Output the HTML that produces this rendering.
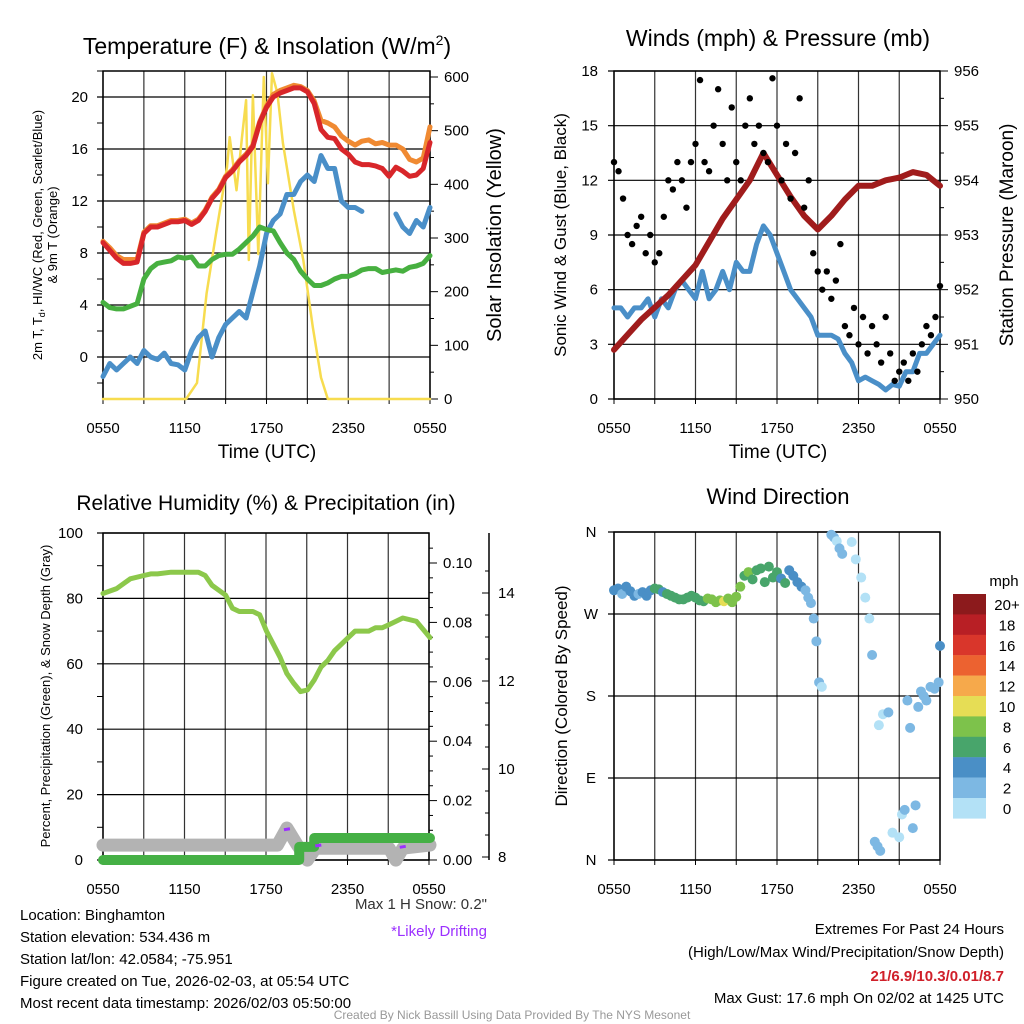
<!DOCTYPE html>
<html><head><meta charset="utf-8"><style>
html,body{margin:0;padding:0;background:#fff;}
svg{display:block;font-family:"Liberation Sans",Arial,sans-serif;}
</style></head><body>
<svg id="s" width="1024" height="1024" viewBox="0 0 1024 1024" xmlns="http://www.w3.org/2000/svg"></svg>
<script>
// ---------- DATA ----------
const hh = [0,0.5,1,1.5,2,2.5,3,3.5,4,4.5,5,5.5,6,6.5,7,7.5,8,8.5,9,9.5,10,10.5,11,11.5,12,12.5,13,13.5,14,14.5,15,15.5,16,16.5,17,17.5,18,18.5,19,19.5,20,20.5,21,21.5,22,22.5,23,23.5,24];
const tempRed = [8.8,8.2,7.6,7.2,7.2,7.3,9.5,10.0,10.0,10.2,10.4,10.4,10.5,10.2,10.5,11.2,12.2,12.8,13.8,14.3,15.0,15.5,16.2,18.0,19.2,20.0,20.3,20.5,20.7,20.7,20.4,19.5,17.5,16.9,16.8,16.0,15.6,15.0,14.8,14.8,14.7,14.5,13.9,14.6,14.3,13.9,14.0,14.5,16.5];
const temp9m = [8.9,8.4,7.8,7.5,7.5,7.5,9.6,10.1,10.1,10.3,10.5,10.5,10.6,10.3,10.6,11.3,12.3,12.9,13.9,14.4,15.1,15.6,16.3,18.1,19.3,20.2,20.5,20.7,20.9,20.8,20.5,19.7,18.2,18.0,17.7,17.0,16.6,16.3,16.6,16.7,16.4,16.5,16.3,16.3,16.0,15.2,15.0,15.3,17.7];
const tempGreen = [4.2,3.8,3.7,3.7,3.9,4.1,6.0,6.8,7.2,7.3,7.4,7.7,7.6,7.7,7.0,7.0,7.5,7.8,7.9,7.9,8.3,8.8,9.3,10.0,9.8,9.7,8.8,8.0,7.5,6.6,6.0,5.5,5.5,5.7,6.0,6.2,6.2,6.4,6.7,6.8,6.8,6.5,6.6,6.7,6.6,6.9,7.0,7.2,7.8];
const dewBlue = [-1.5,-0.5,-1,-0.5,0,-0.5,0.5,0,-0.2,0.3,-0.5,-0.6,-1,0.5,1.5,2,0,1.5,2.5,3,3.5,3,5,7,9.5,10.5,11,12.5,12.5,13.5,14,13.5,15.5,14.5,14.5,12,11.5,11.5,11.2,null,null,null,null,11,10,9.5,10.5,10,11.5];
const solarT = [0,6.1,6.9,7.6,8.3,9.1,9.3,9.8,10.2,10.5,10.7,11.0,11.4,11.8,12.1,12.4,12.8,13.2,14.0,14.7,15.4,16.0,16.5,24];
const solarV = [0,0,30,197,309,432,488,389,488,557,259,566,270,600,402,607,570,477,352,259,134,40,0,0];
const windBlue = [5,5,4.5,5,5,5.5,4.5,5.5,5,6,6.5,6,5.5,7,5.5,6,7,6,7.5,7,7,8.5,9.5,9,8,7,6,5.5,5,4.5,3.5,3.5,3.5,3.3,2.5,2,1,1.2,1,0.8,0.5,0.8,0.7,1.5,1.5,2.5,2.5,3,3.5];
const presH = [0,2,4,6,8,10,11,12,13,14,15,16,17,18,19,20,21,22,23,24];
const presV = [950.9,951.45,951.9,952.45,953.3,954.0,954.5,954.1,953.7,953.35,953.1,953.35,953.65,953.9,953.9,954.0,954.05,954.15,954.1,953.9];
const gustV = [13,12.5,11,9,8.5,9.5,10,8,9,7.5,8,10,12,11.5,13,12,10.5,13,14,17.5,13,12.5,15,17,14,12,16,13,12,15,16.5,14,15,13.5,13,17.6,15,12,14,11,13.5,16.5,10.5,12,8,7,6,7,5.5,6.5,8.5,4,3.5,5,3,4.5,2.5,4,3,2,4.5,2.5,1,1.5,2,1,2.5,1.5,3,4,3.5,4.5,6.2];
const rhH = [0,1,2,3,3.5,4,5,6,7,7.5,8,9,9.5,10,11,11.5,12,12.5,13,13.5,14,14.5,15,15.5,16,16.5,17,17.5,18,18.5,19,19.5,20,20.5,21,22,23,24];
const rhV = [81.5,83,86,87,87.5,87.5,88,88,88,87,84,81,77,76,76,75,70,66,62,57,54,51.5,52,55,59,61,64,66,68,70,70,70,71,71,72,74,73,68];
const snowH = [0,12.8,13.5,14.2,15.0,15.6,21.0,21.5,22.0,24];
const snowV = [8.27,8.27,8.66,8.3,7.93,8.2,8.2,7.93,8.2,8.27];
const precH = [0,14.4,14.4,15.5,15.5,24];
const precV = [0,0,0.0044,0.0044,0.0074,0.0074];
const dirT = [0,0.3,0.6,0.9,1.2,1.5,1.8,2.1,2.4,2.7,3.0,3.3,3.6,3.9,4.2,4.5,4.8,5.1,5.4,5.7,6.0,6.3,6.6,6.9,7.2,7.5,7.8,8.1,8.4,8.7,9.0,9.3,9.6,9.9,10.2,10.5,10.8,11.1,11.4,11.7,12.0,12.3,12.6,12.9,13.2,13.5,13.8,14.1,14.3,14.5,14.7,14.9,15.1,15.3,16.0,16.2,16.4,16.6,16.8,17.5,17.8,18.2,18.5,18.8,19.0,19.2,19.4,19.6,19.5,19.8,20.2,20.5,21.0,21.2,21.4,21.6,21.8,22.0,22.2,22.4,22.6,22.8,23.0,23.3,23.6,23.9,24];
const dirV = [296,298,292,300,295,290,292,294,290,296,298,297,294,292,290,288,286,286,288,290,288,285,284,287,286,283,285,284,287,283,289,300,312,316,308,318,320,305,322,310,316,309,304,318,312,305,300,296,288,282,265,240,195,190,357,354,350,342,336,349,330,310,288,265,225,20,15,10,148,160,162,30,25,50,55,175,145,35,60,168,185,180,175,190,188,195,235];
const dirS = [4,4,3,4,4,4,3,4,4,5,6,6,5,6,6,6,6,7,6,7,7,6,7,8,8,9,8,10,9,8,9,8,7,8,7,6,7,6,7,7,6,5,6,5,5,4,4,3,3,3,2,2,2,1,2,2,1,2,2,1,1,1,0,1,2,2,2,2,1,1,2,1,1,1,2,3,2,2,2,3,2,3,3,3,2,3,4];
const legendLabels = ["20+","18","16","14","12","10","8","6","4","2","0"];
const legendColors = ["#8c1a1c","#b81f25","#d9362b","#ec6230","#f6a94b","#e6dd55","#7dc24b","#48a56b","#4a8fc6","#7db8e3","#b3e1f6"];

// ---------- HELPERS ----------
const NS="http://www.w3.org/2000/svg";
const svg=document.getElementById('s');
function mk(tag,attrs,parent){const e=document.createElementNS(NS,tag);for(const k in attrs)e.setAttribute(k,attrs[k]);(parent||svg).appendChild(e);return e;}
function txt(x,y,s,size,anchor,extra){const e=mk('text',Object.assign({x:x,y:y,'font-size':size,'text-anchor':anchor||'middle',fill:'#000'},extra||{}));e.textContent=s;return e;}
function pathFrom(xs,ys,fx,fy){let d='',pen=false;for(let i=0;i<xs.length;i++){if(ys[i]===null||ys[i]===undefined){pen=false;continue;}d+=(pen?'L':'M')+fx(xs[i]).toFixed(1)+' '+fy(ys[i]).toFixed(1);pen=true;}return d;}

const X1=t=>103+t*327/24, X2=t=>614+t*326/24;
const YT=v=>357-v*13, YS=v=>399-v*322/600;
const YW=v=>399-v*328/18, YP=v=>399-(v-950)*328/6;
const YR=v=>860-v*3.27, YPr=v=>860-v*2970, YSn=v=>857-(v-8)*44;
const YD=v=>860-v*328/360;
const xt=["0550","1150","1750","2350","0550"];

function frame(x0,y0,x1,y1,name){
  for(let i=0;i<=8;i++){const x=x0+(x1-x0)*i/8;
    const g=mk('line',{x1:x,y1:y0,x2:x,y2:y1,stroke:'#333','stroke-width':1.2});
    
    
    if(i%2===0){const l=txt(x,y1+34,xt[i/2],15);
      
      }
    const tk=mk('line',{x1:x,y1:y1,x2:x,y2:y1+5,stroke:'#000','stroke-width':1});
    
    
  }
  const r=mk('rect',{x:x0,y:y0,width:x1-x0,height:y1-y0,fill:'none',stroke:'#000','stroke-width':1.5});
  
  
}
function hgrid(x0,x1,vals,fy,name,labels,lx,anchor){
  vals.forEach((v,i)=>{const y=fy(v);
    const g=mk('line',{x1:x0-6,y1:y,x2:x1,y2:y,stroke:'#000','stroke-width':1.2});
    
    
    const l=txt(lx,y+5,labels[i],15,anchor);
    
    });
}
function rAxis(x,vals,fy,labels,name,minor){
  vals.forEach((v,i)=>{const y=fy(v);
    const t=mk('line',{x1:x,y1:y,x2:x+8,y2:y,stroke:'#000','stroke-width':1});
    
    
    const l=txt(x+14,y+5,labels[i],15,'start');
    
    });
  minor.forEach(v=>{const y=fy(v);
    const t=mk('line',{x1:x,y1:y,x2:x+4,y2:y,stroke:'#000','stroke-width':1});
    
    });
}
function series(d,color,w,name,cap){const p=mk('path',{d:d,fill:'none',stroke:color,'stroke-width':w,'stroke-linejoin':'round','stroke-linecap':cap||'round'});
  
  return p;}

// ---------- PANEL 1 ----------
let e;
e=txt(267,54,"",23);e.innerHTML='Temperature (F) &amp; Insolation (W/m<tspan dy="-9" font-size="14">2</tspan><tspan dy="9">)</tspan>';


frame(103,71,430,399,'temp');
hgrid(103,430,[0,4,8,12,16,20],YT,'temp',["0","4","8","12","16","20"],88,'end');
for(let v=-2;v<=22;v+=2){if(v%4){const y=YT(v);e=mk('line',{x1:97,y1:y,x2:103,y2:y,stroke:'#000'});}}
rAxis(430,[0,100,200,300,400,500,600],YS,["0","100","200","300","400","500","600"],'solar-axis',[50,150,250,350,450,550]);
series(pathFrom(solarT,solarV,X1,YS),'#f7dc4f',2.5,'solar-insolation-line');
series(pathFrom(hh,dewBlue,X1,YT),'#4a8fc8',5,'dewpoint-line');
series(pathFrom(hh,tempGreen,X1,YT),'#47b040',5,'wind-chill-line');
series(pathFrom(hh,temp9m,X1,YT),'#f08a32',5,'temp-9m-line');
series(pathFrom(hh,tempRed,X1,YT),'#d8262a',5,'temp-2m-line');
e=txt(0,0,"",13,'middle',{transform:'translate(42,235) rotate(-90)'});
e.innerHTML='2m T, T<tspan dy="3" font-size="9">d</tspan><tspan dy="-3">, HI/WC (Red, Green, Scarlet/Blue)</tspan>';


e=txt(0,0,"& 9m T (Orange)",13,'middle',{transform:'translate(57,235) rotate(-90)'});


e=txt(0,0,"Solar Insolation (Yellow)",20,'middle',{transform:'translate(501,235) rotate(-90)'});


e=txt(267,458,"Time (UTC)",19);



// ---------- PANEL 2 ----------
e=txt(778,46,"Winds (mph) & Pressure (mb)",23);


frame(614,71,940,399,'wind');
hgrid(614,940,[0,3,6,9,12,15,18],YW,'wind',["0","3","6","9","12","15","18"],598,'end');
rAxis(940,[950,951,952,953,954,955,956],YP,["950","951","952","953","954","955","956"],'pressure-axis',[950.5,951.5,952.5,953.5,954.5,955.5]);
series(pathFrom(hh,windBlue,X2,YW),'#4a8fc8',5,'sonic-wind-line');
series(pathFrom(presH,presV,X2,YP),'#a01c1c',6,'pressure-line');
gustV.forEach((v,i)=>{const c=mk('circle',{cx:X2(i/3),cy:YW(v),r:3.2,fill:'#000'});
  
  });
e=txt(0,0,"Sonic Wind & Gust (Blue, Black)",17,'middle',{transform:'translate(566,235) rotate(-90)'});


e=txt(0,0,"Station Pressure (Maroon)",19,'middle',{transform:'translate(1013,235) rotate(-90)'});


e=txt(778,458,"Time (UTC)",19);



// ---------- PANEL 3 ----------
e=txt(266,510,"Relative Humidity (%) & Precipitation (in)",21);


frame(103,533,429,860,'rh');
hgrid(103,429,[0,20,40,60,80,100],YR,'rh',["0","20","40","60","80","100"],83,'end');
for(let v=10;v<100;v+=20){const y=YR(v);e=mk('line',{x1:97,y1:y,x2:103,y2:y,stroke:'#000'});}
rAxis(429,[0,0.02,0.04,0.06,0.08,0.10],YPr,["0.00","0.02","0.04","0.06","0.08","0.10"],'precip-axis',[0.005,0.01,0.015,0.025,0.03,0.035,0.045,0.05,0.055,0.065,0.07,0.075,0.085,0.09,0.095,0.105]);
e=mk('line',{x1:489,y1:533,x2:489,y2:860,stroke:'#000','stroke-width':1.5});


[8,10,12,14].forEach(v=>{const y=YSn(v);
  e=mk('line',{x1:482,y1:y,x2:489,y2:y,stroke:'#000'});
  
  
  e=txt(498,y+5,String(v),15,'start');
  
  });
for(let v=8.5;v<15;v+=0.5){if(v%2){const y=YSn(v);e=mk('line',{x1:485,y1:y,x2:489,y2:y,stroke:'#000'});}}
series(pathFrom(snowH,snowV,X1,YSn),'#b3b3b3',13,'snow-depth-line');
series(pathFrom(precH,precV,X1,YPr),'#45b045',10,'precip-line');
[[13.5,8.62],[15.8,8.25],[22.0,8.22]].forEach(p=>{const l=mk('line',{x1:X1(p[0])-3,y1:YSn(p[1]),x2:X1(p[0])+3,y2:YSn(p[1])-1,stroke:'#9b30ff','stroke-width':3});
  
  });
series(pathFrom(rhH,rhV,X1,YR),'#8cc84b',5,'rh-line');
e=txt(0,0,"Percent, Precipitation (Green), & Snow Depth (Gray)",13,'middle',{transform:'translate(50,696) rotate(-90)'});


e=txt(487,909,'Max 1 H Snow: 0.2"',15,'end',{fill:'#333'});


e=txt(487,936,'*Likely Drifting',15,'end',{fill:'#9b30ff'});



// ---------- PANEL 4 ----------
e=txt(778,504,"Wind Direction",22);


frame(614,532,940,860,'dir');
hgrid(614,940,[360,270,180,90,0],YD,'dir',["N","W","S","E","N"],591,'middle');
dirT.forEach((t,i)=>{const b=Math.min(10,Math.floor(dirS[i]/2));
  const c=mk('circle',{cx:X2(t),cy:YD(dirV[i]),r:5,fill:legendColors[10-b]});
  
  });
e=txt(0,0,"Direction (Colored By Speed)",17,'middle',{transform:'translate(567,696) rotate(-90)'});


e=txt(1004,586,"mph",15,'middle');


legendLabels.forEach((s,i)=>{const y=594+i*20.4;
  const r=mk('rect',{x:953,y:y,width:33,height:20.6,fill:legendColors[i]});
  
  
  const l=txt(1007,y+16,s,15,'middle');
  
  });

// ---------- FOOTER TEXT ----------
const leftLines=["Location: Binghamton","Station elevation: 534.436 m","Station lat/lon: 42.0584; -75.951","Figure created on Tue, 2026-02-03, at 05:54 UTC","Most recent data timestamp: 2026/02/03 05:50:00"];
leftLines.forEach((s,i)=>{const l=txt(20,920+i*22,s,15,'start');
  
  });
e=txt(1004,934,"Extremes For Past 24 Hours",15,'end');


e=txt(1004,957,"(High/Low/Max Wind/Precipitation/Snow Depth)",15,'end');


e=txt(1004,981,"21/6.9/10.3/0.01/8.7",15,'end',{fill:'#d0202a','font-weight':'bold'});


e=txt(1004,1003,"Max Gust: 17.6 mph On 02/02 at 1425 UTC",15,'end');


e=txt(512,1019,"Created By Nick Bassill Using Data Provided By The NYS Mesonet",12,'middle',{fill:'#999'});


</script>
</body></html>
